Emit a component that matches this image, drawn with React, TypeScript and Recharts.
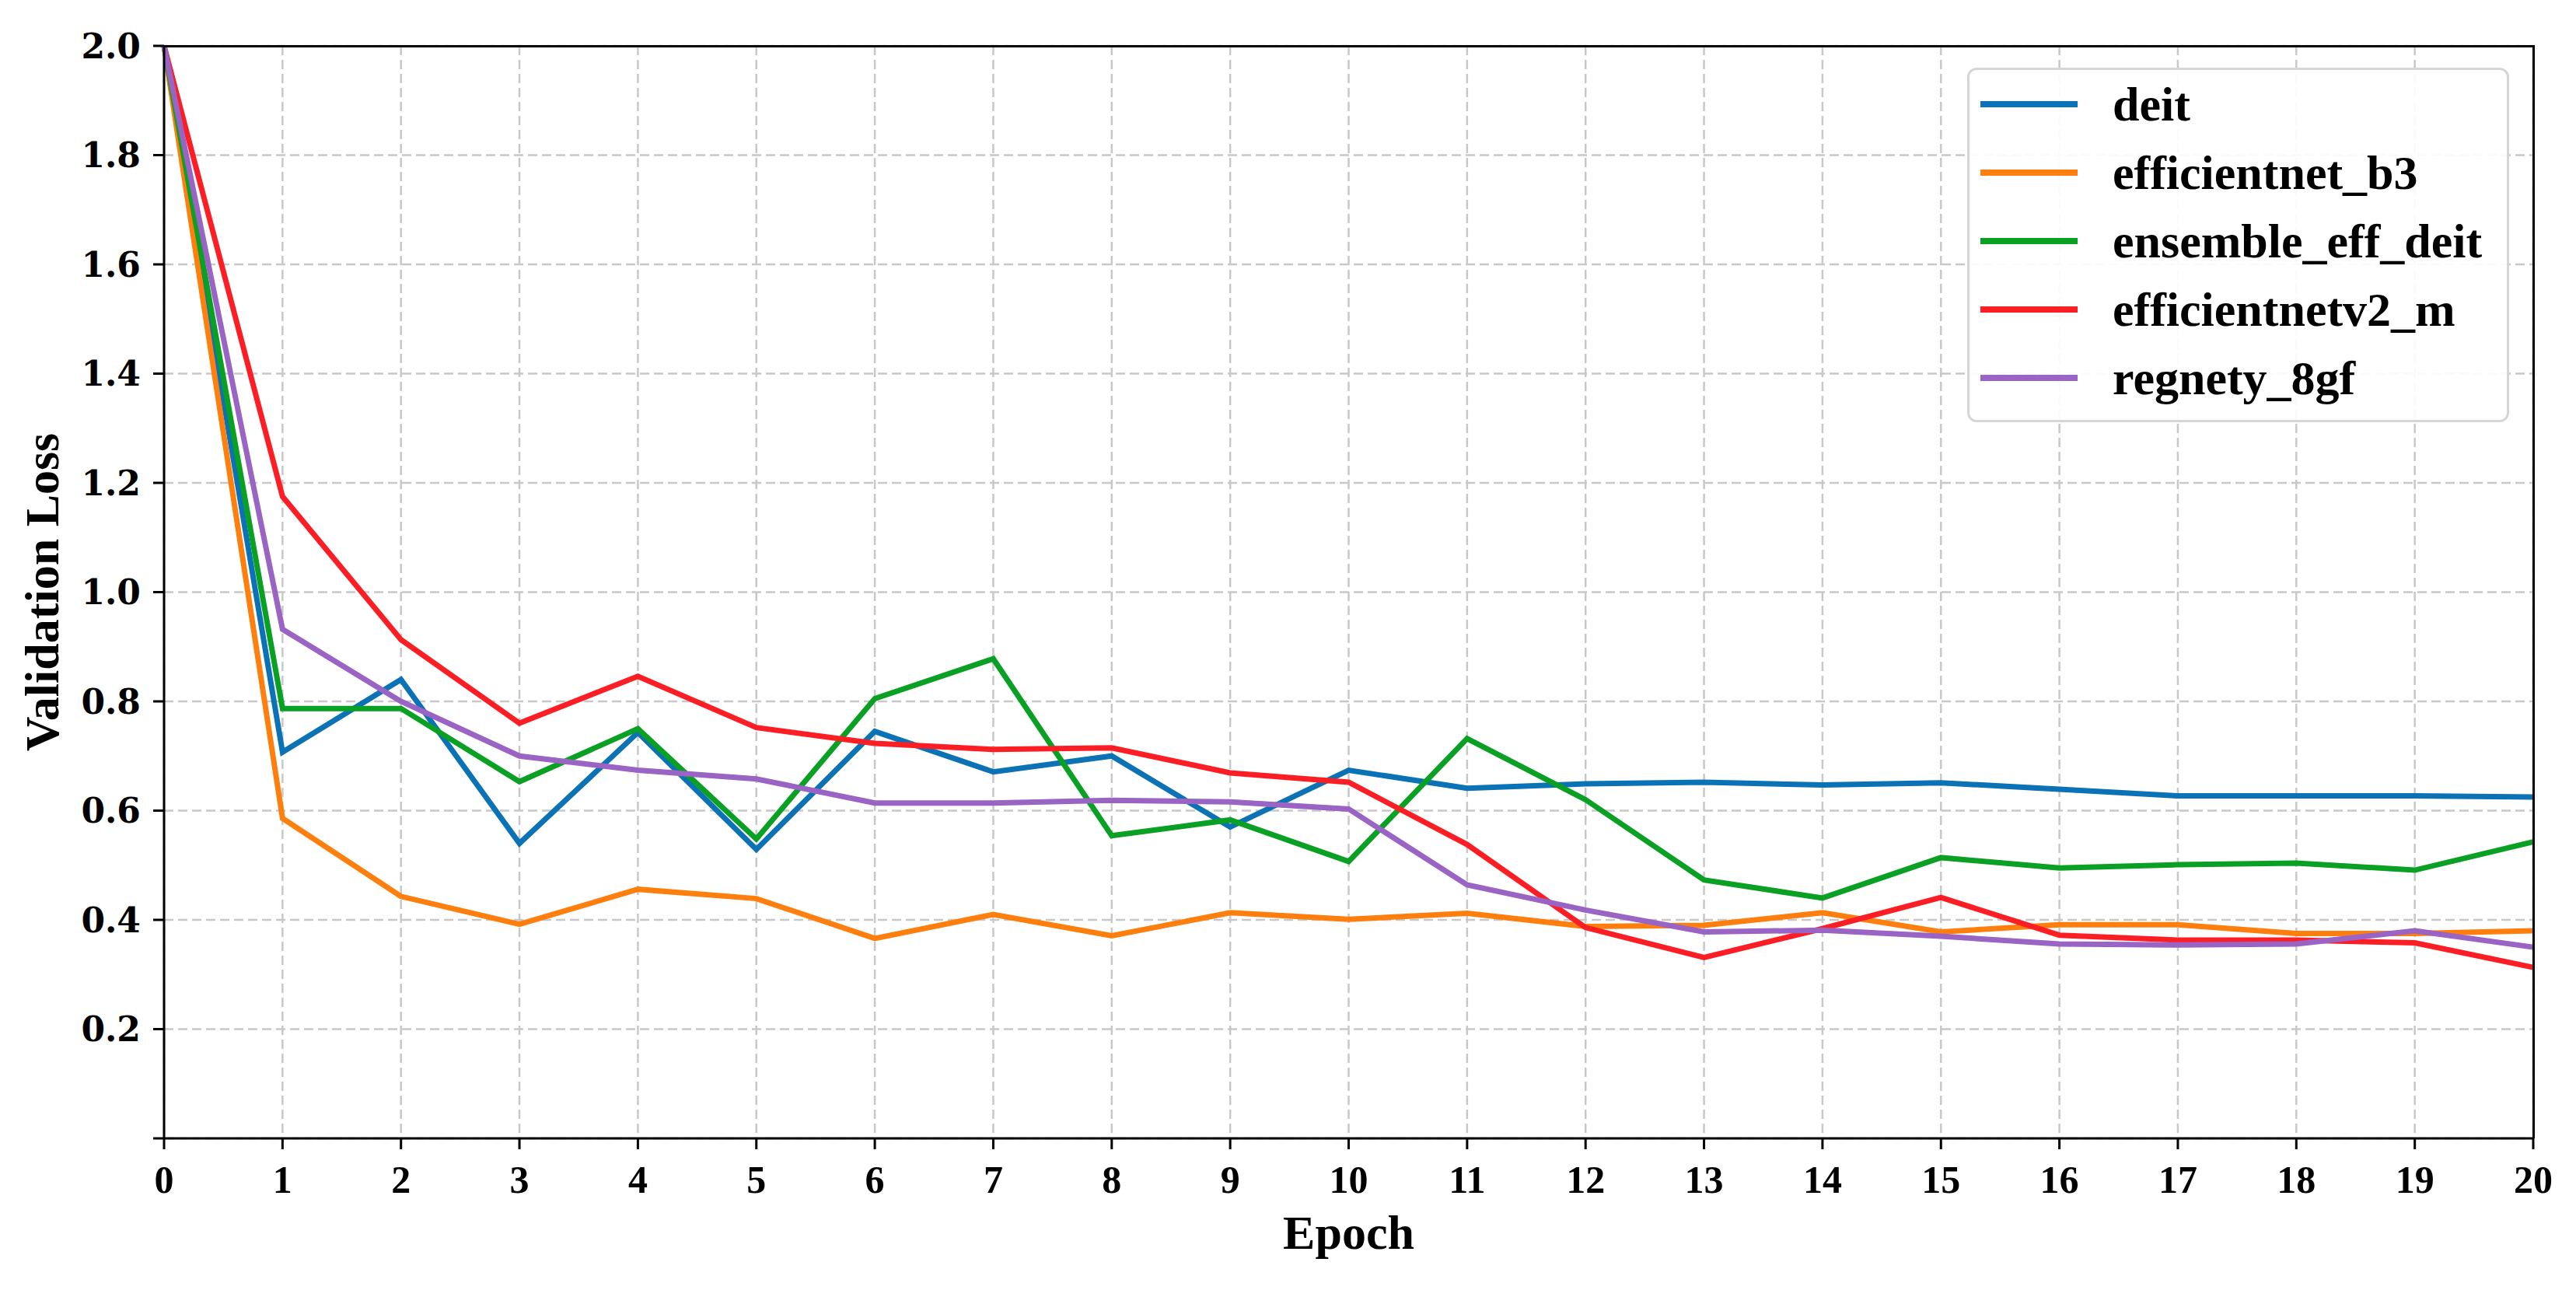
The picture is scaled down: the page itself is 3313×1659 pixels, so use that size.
import { LineChart, Line, XAxis, YAxis, CartesianGrid, Legend, Label } from 'recharts';

const epochs = [0, 1, 2, 3, 4, 5, 6, 7, 8, 9, 10, 11, 12, 13, 14, 15, 16, 17, 18, 19, 20];

const deit = [2.0, 0.707, 0.84, 0.54, 0.743, 0.529, 0.745, 0.671, 0.7, 0.57, 0.674, 0.641, 0.649, 0.652, 0.647, 0.651, 0.639, 0.627, 0.627, 0.627, 0.625];
const efficientnetB3 = [2.0, 0.586, 0.443, 0.392, 0.456, 0.439, 0.366, 0.41, 0.371, 0.413, 0.401, 0.412, 0.388, 0.39, 0.413, 0.378, 0.391, 0.391, 0.375, 0.375, 0.38];
const ensembleEffDeit = [2.0, 0.787, 0.787, 0.653, 0.75, 0.548, 0.805, 0.878, 0.554, 0.583, 0.507, 0.732, 0.62, 0.473, 0.44, 0.514, 0.495, 0.501, 0.504, 0.491, 0.543];
const efficientnetV2M = [2.0, 1.175, 0.913, 0.76, 0.846, 0.752, 0.723, 0.712, 0.715, 0.669, 0.652, 0.538, 0.386, 0.331, 0.384, 0.441, 0.372, 0.363, 0.363, 0.358, 0.313];
const regnety8gf = [2.0, 0.932, 0.8, 0.7, 0.674, 0.658, 0.614, 0.614, 0.619, 0.616, 0.603, 0.464, 0.418, 0.378, 0.381, 0.37, 0.356, 0.354, 0.356, 0.38, 0.35];

const yTicks = [0, 0.2, 0.4, 0.6, 0.8, 1.0, 1.2, 1.4, 1.6, 1.8, 2.0];

const series = [
    { key: 'deit', values: deit, color: '#0a72b5' },
    { key: 'efficientnet_b3', values: efficientnetB3, color: '#ff7f0e' },
    { key: 'ensemble_eff_deit', values: ensembleEffDeit, color: '#0aa023' },
    { key: 'efficientnetv2_m', values: efficientnetV2M, color: '#fb1f25' },
    { key: 'regnety_8gf', values: regnety8gf, color: '#9a64c4' },
];

const data = epochs.map((epoch, i) => {
    const row: Record<string, number> = { epoch };
    series.forEach((s) => {
        row[s.key] = s.values[i];
    });
    return row;
});

const SERIF = "'Liberation Serif', 'DejaVu Serif', serif";

// layout
const W = 3313;
const H = 1659;
const MARGIN = { top: 59, right: 55, bottom: 0, left: 0 };
const Y_AXIS_W = 211;
const X_AXIS_H = 195;

const LegendBox = () => (
    <div
        style={{
            boxSizing: 'border-box',
            width: 697,
            height: 456,
            border: '3px solid #d6d6d6',
            borderRadius: 12,
            background: 'rgba(255,255,255,0.9)',
        }}
    >
        {series.map((s) => (
            <div key={s.key} style={{ display: 'flex', alignItems: 'center', height: 88 }}>
                <div style={{ width: 125, height: 8, background: s.color, marginLeft: 14, marginRight: 45 }} />
                <span style={{ fontFamily: SERIF, fontWeight: 'bold', fontSize: 62, color: '#000', lineHeight: 1 }}>
                    {s.key}
                </span>
            </div>
        ))}
    </div>
);

const App = () => {
    const plotLeft = MARGIN.left + Y_AXIS_W;
    const plotTop = MARGIN.top;
    const plotRight = W - MARGIN.right;
    const plotBottom = H - MARGIN.bottom - X_AXIS_H;

    return (
        <div style={{ position: 'absolute', left: 0, top: 0, width: W, height: H, background: '#fff' }}>
            <LineChart width={W} height={H} data={data} margin={MARGIN}>
                <CartesianGrid stroke="#c8c8c8" strokeDasharray="12 6" strokeWidth={2.5} />
                <XAxis
                    dataKey="epoch"
                    type="number"
                    domain={[0, 20]}
                    ticks={epochs}
                    height={X_AXIS_H}
                    stroke="#000"
                    axisLine={{ stroke: '#000', strokeWidth: 3 }}
                    tickLine={{ stroke: '#000', strokeWidth: 3 }}
                    tickSize={14}
                    tickMargin={20}
                    tick={{ fill: '#000', fontSize: 50, fontWeight: 'bold', fontFamily: SERIF }}
                >
                    <Label
                        value="Epoch"
                        position="insideBottom"
                        offset={53}
                        fill="#000"
                        style={{ fontSize: 62, fontWeight: 'bold', fontFamily: SERIF }}
                    />
                </XAxis>
                <YAxis
                    type="number"
                    domain={[0, 2]}
                    ticks={yTicks}
                    width={Y_AXIS_W}
                    stroke="#000"
                    axisLine={{ stroke: '#000', strokeWidth: 3 }}
                    tickLine={{ stroke: '#000', strokeWidth: 3 }}
                    tickSize={14}
                    tickMargin={16}
                    tickFormatter={(v: number) => (v === 0 ? '' : v.toFixed(1))}
                    tick={{ fill: '#000', fontSize: 44, fontWeight: 'bold', fontFamily: "'DejaVu Serif', serif" }}
                >
                    <Label
                        value="Validation Loss"
                        angle={-90}
                        position="insideLeft"
                        offset={53}
                        fill="#000"
                        textAnchor="middle"
                        style={{ fontSize: 62, fontWeight: 'bold', fontFamily: SERIF, textAnchor: 'middle' }}
                    />
                </YAxis>
                <Legend
                    layout="vertical"
                    align="center"
                    verticalAlign="middle"
                    width={697}
                    wrapperStyle={{ left: 2530, top: 87, width: 697, height: 456 }}
                    content={() => <LegendBox />}
                />
                {series.map((s) => (
                    <Line
                        key={s.key}
                        type="linear"
                        dataKey={s.key}
                        name={s.key}
                        stroke={s.color}
                        strokeWidth={7}
                        dot={false}
                        isAnimationActive={false}
                    />
                ))}
            </LineChart>
            {/* top and right spines */}
            <div
                style={{
                    position: 'absolute',
                    boxSizing: 'border-box',
                    left: plotLeft,
                    top: plotTop - 1.5,
                    width: plotRight - plotLeft + 1.5,
                    height: plotBottom - plotTop + 1.5,
                    borderTop: '3px solid #000',
                    borderRight: '3px solid #000',
                    pointerEvents: 'none',
                }}
            />
        </div>
    );
};

export default App;
